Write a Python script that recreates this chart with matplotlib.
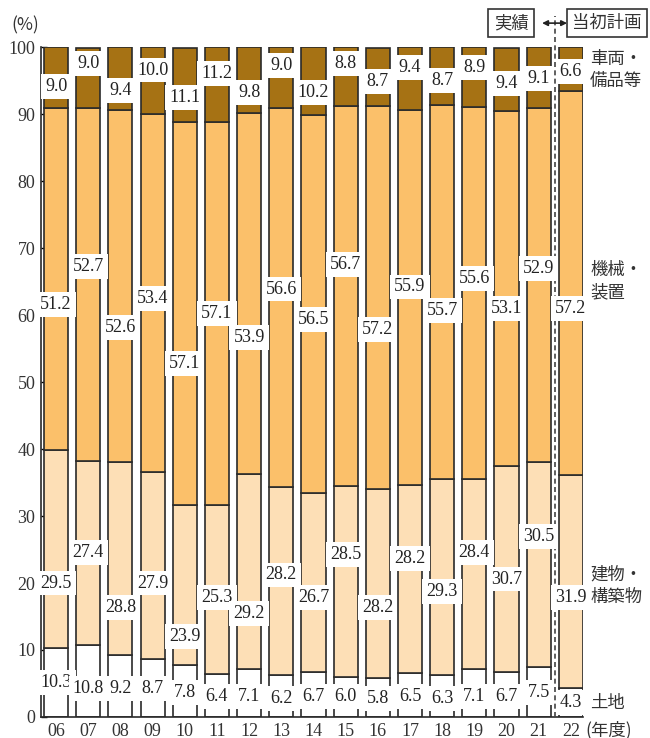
import matplotlib
matplotlib.use("Agg")
import matplotlib.pyplot as plt
from matplotlib.patches import FancyArrowPatch

# Fiscal years and composition (%) of capital investment by asset type
years = ["06", "07", "08", "09", "10", "11", "12", "13", "14", "15",
         "16", "17", "18", "19", "20", "21", "22"]
land = [10.3, 10.8, 9.2, 8.7, 7.8, 6.4, 7.1, 6.2, 6.7, 6.0,
        5.8, 6.5, 6.3, 7.1, 6.7, 7.5, 4.3]
buildings = [29.5, 27.4, 28.8, 27.9, 23.9, 25.3, 29.2, 28.2, 26.7, 28.5,
             28.2, 28.2, 29.3, 28.4, 30.7, 30.5, 31.9]
machinery = [51.2, 52.7, 52.6, 53.4, 57.1, 57.1, 53.9, 56.6, 56.5, 56.7,
             57.2, 55.9, 55.7, 55.6, 53.1, 52.9, 57.2]
vehicles = [9.0, 9.0, 9.4, 10.0, 11.1, 11.2, 9.8, 9.0, 10.2, 8.8,
            8.7, 9.4, 8.7, 8.9, 9.4, 9.1, 6.6]

series_names = ["土地", "建物・\n構築物", "機械・\n装置", "車両・\n備品等"]
y_ticks = [0, 10, 20, 30, 40, 50, 60, 70, 80, 90, 100]

# Vertical placement of the value tags (staggered for readability)
tag_y_land = [5.1, 4.2, 4.2, 4.3, 3.7, 3.1, 3.1, 2.8, 3.0, 3.0,
              2.7, 3.0, 2.8, 3.1, 3.0, 3.6, 2.1]
tag_y_build = [20.0, 24.6, 16.4, 20.0, 12.0, 17.8, 15.5, 21.2, 17.9, 24.3,
               16.3, 23.7, 18.7, 24.5, 20.6, 26.9, 17.9]
tag_y_mach = [61.6, 67.3, 58.1, 62.5, 52.8, 60.3, 56.7, 63.9, 59.3, 67.6,
              57.8, 64.2, 60.7, 65.5, 61.0, 67.0, 61.0]
tag_y_veh = [94.2, 97.6, 93.6, 96.6, 92.5, 96.1, 93.3, 97.3, 93.3, 97.6,
             94.9, 97.0, 95.1, 97.0, 94.6, 95.4, 96.4]

colors = ["#FFFFFF", "#FDDFB6", "#FBC06A", "#A67214"]
edge = "#2A2A2A"
text_col = "#333333"
num_font = ["Liberation Serif", "DejaVu Serif"]
jp_font = ["Noto Sans CJK JP", "DejaVu Sans"]

fig = plt.figure(figsize=(6.5, 7.38), dpi=100)
ax = fig.add_axes([0.063, 0.0285, 0.834, 0.9075])

x = list(range(len(years)))
bar_w = 0.75
bottoms = [0.0] * len(years)
stack = [land, buildings, machinery, vehicles]
for vals, col in zip(stack, colors):
    ax.bar(x, vals, width=bar_w, bottom=bottoms, color=col,
           edgecolor=edge, linewidth=1.2, zorder=2)
    bottoms = [b + v for b, v in zip(bottoms, vals)]

# White value tags over each segment
for vals, tag_y in zip(stack, [tag_y_land, tag_y_build, tag_y_mach, tag_y_veh]):
    for xi, v, ty in zip(x, vals, tag_y):
        ax.text(xi, ty, f"{v:.1f}", ha="center", va="center",
                fontsize=13, family=num_font, color="#222222", zorder=4,
                bbox=dict(boxstyle="square,pad=0.22", fc="white", ec="none"))

ax.set_xlim(-0.47, 16.38)
ax.set_ylim(0, 100)
ax.set_yticks(y_ticks)
ax.set_yticklabels([str(t) for t in y_ticks], family=num_font, fontsize=13,
                   color=text_col)
ax.set_xticks(x)
ax.set_xticklabels(years, family=num_font, fontsize=13, color=text_col)
ax.tick_params(axis="y", direction="in", length=4, width=1, pad=4)
ax.tick_params(axis="x", length=0, pad=4)
for s in ["top", "right"]:
    ax.spines[s].set_visible(False)
for s in ["left", "bottom"]:
    ax.spines[s].set_linewidth(1.2)
    ax.spines[s].set_color(edge)

# Divider between results and initial plan
div_x = 15.5
ax.plot([div_x, div_x], [0, 104.6], ls=(0, (3, 2)), color="#444444",
        lw=1.2, clip_on=False, zorder=3)

# Header boxes with a double arrow between them
head_y = 103.6
ax.text(14.14, head_y, "実績", ha="center", va="center", fontsize=12.5,
        family=jp_font, color=text_col,
        bbox=dict(boxstyle="square,pad=0.3", fc="white", ec="#333333", lw=1.2))
ax.text(17.12, head_y, "当初計画", ha="center", va="center", fontsize=12.5,
        family=jp_font, color=text_col,
        bbox=dict(boxstyle="square,pad=0.3", fc="white", ec="#333333", lw=1.2))
arr = FancyArrowPatch((15.02, head_y), (15.97, head_y), arrowstyle="<|-|>",
                      mutation_scale=8, color="#222222", lw=1.2,
                      clip_on=False, transform=ax.transData)
fig.add_artist(arr)

# Series names on the right
name_y = [2.1, 19.6, 65.1, 96.6]
for nm, ny in zip(series_names, name_y):
    ax.text(16.6, ny, nm, ha="left", va="center", fontsize=12.5,
            family=jp_font, color=text_col, linespacing=1.3)
ax.text(16.45, -1.95, "(年度)", ha="left", va="center", fontsize=12.5,
        family=jp_font, color=text_col)
fig.text(0.018, 0.965, "(%)", ha="left", va="center", fontsize=12.5,
         family=jp_font, color=text_col)

fig.savefig("out.png", dpi=100)
